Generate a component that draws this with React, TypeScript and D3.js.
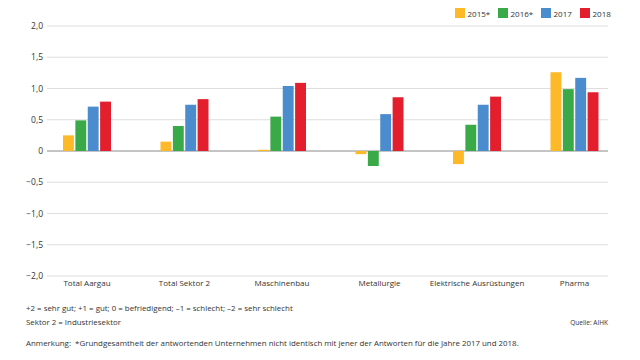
import { formatLocale, scaleBand, scaleLinear } from 'd3'

const categories = ['Total Aargau', 'Total Sektor 2', 'Maschinenbau', 'Metallurgie', 'Elektrische Ausrüstungen', 'Pharma']
const seriesNames = ['2015*', '2016*', '2017', '2018']
const v2015 = [0.25, 0.15, 0.02, -0.05, -0.21, 1.26]
const v2016 = [0.49, 0.4, 0.55, -0.24, 0.42, 0.99]
const v2017 = [0.71, 0.74, 1.04, 0.59, 0.74, 1.17]
const v2018 = [0.79, 0.83, 1.09, 0.86, 0.87, 0.94]
const yTicks = [2, 1.5, 1, 0.5, 0, -0.5, -1, -1.5, -2]

const series = [v2015, v2016, v2017, v2018]
const colors = ['#fdb928', '#3aaa48', '#4b8ccf', '#e31f2e']

const locale = formatLocale({ decimal: ',', thousands: "'", grouping: [3], currency: ['', ''], minus: '−' })
const fmt = (d: number) => (d === 0 ? '0' : locale.format('.1f')(d))

const font = '"Open Sans", sans-serif'

export default function App() {
  const width = 640
  const height = 360
  const gridLeft = 47
  const gridRight = 608

  // y scale
  const y = scaleLinear().domain([-2, 2]).range([276, 26])
  // group scale
  const x0 = scaleBand<string>().domain(categories).range([38.25, 623.25]).paddingInner(0.5).paddingOuter(0.25)
  const x1 = scaleBand<string>().domain(seriesNames).range([0, 48]).paddingInner(0.12)

  const legendX = [455, 498, 541, 580]

  return (
    <svg width={width} height={height} style={{ position: 'absolute', left: 0, top: 0, background: '#fff' }} fontFamily={font}>
      {/* legend */}
      {seriesNames.map((s, i) => (
        <g key={s}>
          <rect x={legendX[i]} y={8} width={10} height={10} fill={colors[i]} />
          <text x={legendX[i] + 12.5} y={16.5} fontSize={8} fill="#333">
            {s}
          </text>
        </g>
      ))}

      {/* gridlines + y labels */}
      {yTicks.map((t) => (
        <g key={t}>
          <line
            x1={gridLeft}
            x2={gridRight}
            y1={y(t)}
            y2={y(t)}
            stroke={t === 0 ? '#8a8a8a' : '#dedede'}
            strokeWidth={1}
          />
          <text x={43} y={y(t) + 3} textAnchor="end" fontSize={8.5} fill="#333">
            {fmt(t)}
          </text>
        </g>
      ))}

      {/* bars */}
      {categories.map((c, ci) => {
        const gx = (x0(c) ?? 0) + x0.bandwidth() / 2 - 24
        return (
          <g key={c} transform={`translate(${gx},0)`}>
            {series.map((vals, si) => {
              const v = vals[ci]
              return (
                <rect
                  key={si}
                  x={x1(seriesNames[si])}
                  width={x1.bandwidth()}
                  y={Math.min(y(v), y(0))}
                  height={Math.abs(y(v) - y(0))}
                  fill={colors[si]}
                />
              )
            })}
          </g>
        )
      })}

      {/* category labels */}
      {categories.map((c) => (
        <text key={c} x={(x0(c) ?? 0) + x0.bandwidth() / 2} y={286} textAnchor="middle" fontSize={8} fill="#333">
          {c}
        </text>
      ))}

      {/* notes */}
      <text x={26} y={311} fontSize={7.9} fill="#333">
        +2 = sehr gut; +1 = gut; 0 = befriedigend; –1 = schlecht; –2 = sehr schlecht
      </text>
      <text x={26} y={325} fontSize={7.9} fill="#333">
        Sektor 2 = Industriesektor
      </text>
      <text x={608} y={325} textAnchor="end" fontSize={6.5} fill="#333">
        Quelle: AIHK
      </text>
      <text x={26} y={346} fontSize={7.9} fill="#333" xmlSpace="preserve">
        Anmerkung:  *Grundgesamtheit der antwortenden Unternehmen nicht identisch mit jener der Antworten für die Jahre 2017 und 2018.
      </text>
    </svg>
  )
}
